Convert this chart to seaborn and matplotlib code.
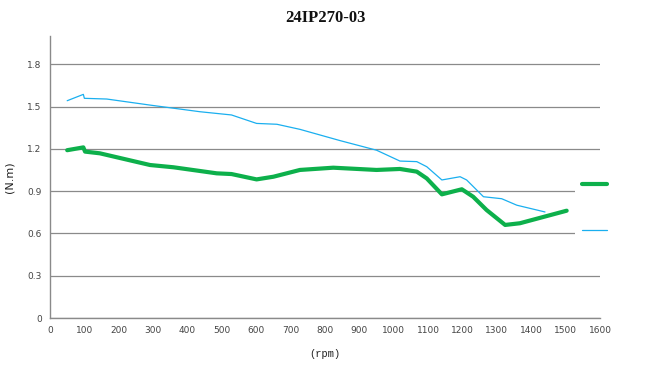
import pandas as pd
import seaborn as sns
import matplotlib.pyplot as plt
from matplotlib.lines import Line2D

# speed (rpm) / torque (N.m)
blue_rpm = [50, 97, 100, 165, 291, 436, 528, 601, 660, 727, 844, 950, 1018, 1067,
            1096, 1140, 1193, 1212, 1261, 1314, 1358, 1440]
blue_nm = [1.541, 1.586, 1.558, 1.553, 1.51, 1.463, 1.44, 1.38, 1.374, 1.338, 1.258,
           1.19, 1.113, 1.109, 1.073, 0.979, 1.002, 0.979, 0.86, 0.846, 0.80, 0.752]

green_rpm = [50, 97, 102, 145, 291, 359, 485, 528, 601, 650, 727, 824, 950, 1018,
             1067, 1096, 1140, 1198, 1231, 1270, 1324, 1367, 1503]
green_nm = [1.19, 1.21, 1.18, 1.168, 1.085, 1.069, 1.026, 1.021, 0.983, 1.002, 1.05,
            1.066, 1.05, 1.057, 1.038, 0.99, 0.877, 0.913, 0.86, 0.766, 0.66, 0.672, 0.761]

y_ticks = [0, 0.3, 0.6, 0.9, 1.2, 1.5, 1.8]
x_ticks = list(range(0, 1700, 100))

blue_df = pd.DataFrame({"rpm": blue_rpm, "nm": blue_nm})
green_df = pd.DataFrame({"rpm": green_rpm, "nm": green_nm})

sns.set_theme(style="white")
plt.rcParams['font.family'] = ['DejaVu Sans']

fig = plt.figure(figsize=(6.47, 3.70), dpi=100)
ax = fig.add_axes([50 / 647, 1 - 318 / 370, 550 / 647, 282 / 370])

blue_c = "#1AAFEF"
green_c = "#0DB04B"

sns.lineplot(data=blue_df, x="rpm", y="nm", ax=ax, color=blue_c, linewidth=0.9,
             sort=False, estimator=None)
sns.lineplot(data=green_df, x="rpm", y="nm", ax=ax, color=green_c, linewidth=3.0,
             sort=False, estimator=None)

ax.set_xlim(0, 1600)
ax.set_ylim(0, 2.0)
ax.set_xticks(x_ticks)
ax.set_xticklabels([str(v) for v in x_ticks])
ax.set_yticks(y_ticks)
ax.set_yticklabels(["0" if v == 0 else f"{v:.1f}" for v in y_ticks])
ax.tick_params(axis="both", labelsize=6.5, colors="#444444", length=0, pad=6)
ax.grid(axis="y", color="#8a8a8a", linewidth=0.9)
ax.set_axisbelow(True)

for side in ["top", "right"]:
    ax.spines[side].set_visible(False)
for side in ["left", "bottom"]:
    ax.spines[side].set_color("#8a8a8a")
    ax.spines[side].set_linewidth(1.0)

ax.set_xlabel("(rpm)", fontsize=7.5, family="Liberation Mono", color="#222222", labelpad=10)
ax.set_ylabel("(N.m)", fontsize=8, color="#222222", labelpad=9)
ax.set_title("24IP270-03", fontsize=12, family="Liberation Serif", fontweight="bold",
             color="#111111", pad=10)

handles = [Line2D([], [], color=green_c, linewidth=3.0),
           Line2D([], [], color=blue_c, linewidth=0.9)]
leg = ax.legend(handles, [" ", " "], loc="center left",
                bbox_to_anchor=(575 / 647, 1 - 208 / 370), bbox_transform=fig.transFigure,
                fontsize=8, handlelength=2.3, labelspacing=3.2, borderpad=0.6,
                borderaxespad=0, handletextpad=0.4,
                frameon=True, fancybox=False)
leg.get_frame().set_facecolor("white")
leg.get_frame().set_edgecolor("none")
leg.get_frame().set_alpha(1)

fig.savefig("out.png", dpi=100)
